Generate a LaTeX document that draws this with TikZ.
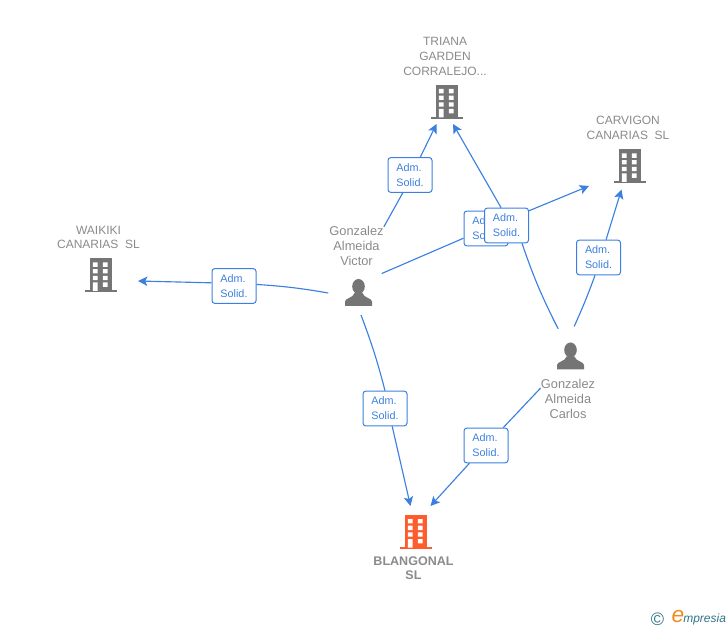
\documentclass[tikz,border=0pt]{standalone}
\usepackage{fontspec}
\setmainfont{Liberation Sans}
\usetikzlibrary{arrows.meta,backgrounds}

\definecolor{linkblue}{HTML}{3B80E0}
\definecolor{labelgray}{HTML}{8A8A8A}
\definecolor{icongray}{HTML}{757575}
\definecolor{iconorange}{HTML}{FF5C2E}
\definecolor{logoteal}{HTML}{2F7488}
\definecolor{logoorange}{HTML}{F28A1E}

\tikzset{
    adm/.style={draw=linkblue,fill=white,rounded corners=2pt,line width=0.75pt,text=linkblue,
        minimum width=33pt,minimum height=26pt,inner sep=0pt,align=left,
        font=\fontsize{8.1}{11.25}\selectfont},
    firmname/.style={text=labelgray,inner sep=0pt,align=center,
        font=\fontsize{9}{11.1}\selectfont},
    personname/.style={firmname,font=\fontsize{9.6}{11.25}\selectfont},
    slot/.style={minimum size=45pt,circle,inner sep=0pt},
    link/.style={draw=linkblue,line width=0.85pt},
    linkto/.style={link,-{Stealth[length=7pt,width=7pt,inset=1.6pt]}},
    building/.pic={
        \fill (-11,-17) rectangle (11,15);
        \fill (-16,15) rectangle (16,17);
        \fill[white] (-7.7,-13) rectangle (-3,-8.7)
            (2.3,-13) rectangle (7,-8.7)
            (-7.7,-6.3) rectangle (-3,-2)
            (2.3,-6.3) rectangle (7,-2)
            (-7.7,0.3) rectangle (-3,4.6)
            (2.3,0.3) rectangle (7,4.6)
            (2.3,7) rectangle (7,11.3)
            (-7.7,7) rectangle (-3,15.5);
    },
    person/.pic={
        \fill (0,-6.5) ellipse (6.3 and 7.5);
        \fill (-13.5,13) -- (-13.5,8.5) .. controls (-13.5,5) and (-5,5) .. (-4,0)
            -- (4,0) .. controls (5,5) and (13.5,5) .. (13.5,8.5) -- (13.5,13) -- cycle;
    }
}

\begin{document}
\begin{tikzpicture}[x=0.75pt,y=-0.75pt]
        \useasboundingbox (0,0) rectangle (728,630);

        % people and companies
        \node[slot] (victor) at (358.5,293) {};
        \node[slot] (carlos) at (570.5,356.5) {};
        \node[slot] (blangonal) at (415.5,532) {};
        \node[slot] (triana) at (446.5,102) {};
        \node[slot] (carvigon) at (629.5,166.5) {};
        \node[slot] (waikiki) at (100.5,275.5) {};

        \pic[icongray] at (victor) {person};
        \pic[icongray] at (carlos) {person};
        \pic[iconorange] at (blangonal) {building};
        \pic[icongray] at (triana) {building};
        \pic[icongray] at (carvigon) {building};
        \pic[icongray] at (waikiki) {building};

        \node[personname] (victorName) at (356.5,246) {Gonzalez\\Almeida\\Victor};
        \node[personname] (carlosName) at (568,399) {Gonzalez\\Almeida\\Carlos};
        \node[firmname,font=\fontsize{9.4}{10.8}\selectfont\bfseries] (blangonalName) at (413.5,568) {BLANGONAL\\SL};
        \node[firmname] (trianaName) at (445,56.5) {TRIANA\\GARDEN\\CORRALEJO...};
        \node[firmname] (carvigonName) at (628,128) {CARVIGON\\CANARIAS\ \ SL};
        \node[firmname] (waikikiName) at (98.5,237.5) {WAIKIKI\\CANARIAS\ \ SL};

        % role boxes
        \node[adm] (admTriana) at (410,175) {Adm.\\Solid.};
        \node[adm] (admWaikiki) at (234,286) {Adm.\\Solid.};
        \node[adm] (admBlangonal) at (385,408.5) {Adm.\\Solid.};
        \node[adm] (admCarvigon) at (486,228.5) {Adm.\\Solid.};
        \node[adm] (admCarlosTriana) at (506.5,225.5) {Adm.\\Solid.};
        \node[adm] (admCarlosCarvigon) at (598.5,257.5) {Adm.\\Solid.};
        \node[adm] (admCarlosBlangonal) at (486,445.5) {Adm.\\Solid.};

        % arrow ends
        \coordinate (victorS) at (361,315);
        \coordinate (trianaL) at (436.5,124);
        \coordinate (trianaR) at (453,124);
        \coordinate (carvigonL) at (589,186);
        \coordinate (carvigonB) at (621.5,189.5);
        \coordinate (waikikiR) at (138,281);
        \coordinate (blangonalL) at (410.5,506);
        \coordinate (blangonalR) at (430.5,506);

        \begin{scope}[on background layer]
        \draw[link] (victorName.35) -- (admTriana.-112);
        \draw[linkto] (admTriana.60) -- (trianaL);
        \draw[link] (victor.180) to[bend right=3] (admWaikiki.4);
        \draw[linkto] (admWaikiki.172) -- (waikikiR);
        \draw[link] (victor.40) -- (admCarvigon);
        \draw[linkto] (admCarvigon) -- (carvigonL);
        \draw[link] (victorS) to[bend left=3] (admBlangonal.north);
        \draw[linkto] (admBlangonal.-68) -- (blangonalL);
        \draw[link] (carlos.114) to[bend left=4] (admCarlosTriana.-49);
        \draw[linkto] (admCarlosTriana.107) -- (trianaR);
        \draw[link] (carlos.83) to[bend right=2] (admCarlosCarvigon.-101);
        \draw[linkto] (admCarlosCarvigon.67) -- (carvigonB);
        \draw[link] (carlosName.158) -- (admCarlosBlangonal.46);
        \draw[linkto] (admCarlosBlangonal.227) -- (blangonalR);
        \end{scope}

        % logo
        \node[text=logoteal,inner sep=0pt,font=\fontsize{13.5}{14}\selectfont] (logoC) at (657.5,619) {©};
        \node[text=logoorange,inner sep=0pt,font=\fontsize{17}{17}\selectfont\itshape] (logoE) at (678,616.5) {e};
        \node[text=logoteal,inner sep=0pt,anchor=west,font=\fontsize{9}{10}\selectfont\itshape] (logoText) at (683,619) {mpresia};
\end{tikzpicture}
\end{document}
